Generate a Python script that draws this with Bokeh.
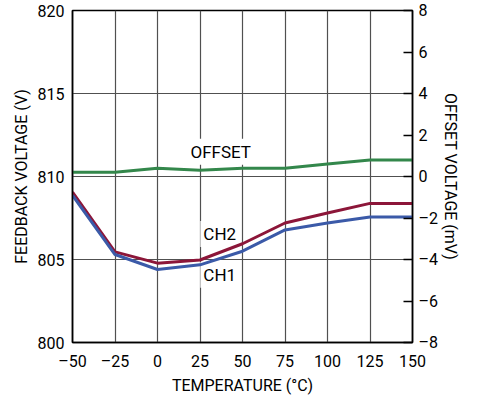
from bokeh.plotting import figure
from bokeh.models import Range1d, LinearAxis, FixedTicker, ColumnDataSource
from bokeh.core.properties import value
from bokeh.embed import file_html
from bokeh.resources import INLINE

# ---- data ----
temps = [-50, -25, 0, 25, 50, 75, 100, 125, 150]
ch1 = [808.86, 805.3, 804.4, 804.68, 805.5, 806.78, 807.2, 807.56, 807.56]
ch2 = [809.06, 805.46, 804.78, 804.97, 805.95, 807.2, 807.8, 808.38, 808.38]
offset = [0.2, 0.2, 0.4, 0.3, 0.4, 0.4, 0.6, 0.8, 0.8]

x_ticks = [-50, -25, 0, 25, 50, 75, 100, 125, 150]
left_ticks = [800, 805, 810, 815, 820]
right_ticks = [-8, -6, -4, -2, 0, 2, 4, 6, 8]

label_text = ["OFFSET", "CH2", "CH1"]
label_x = [37.2, 36.6, 36.6]
label_y = [811.49, 806.53, 804.08]

FONT = "Roboto"
GREEN = "#33874b"
RED = "#8c1639"
BLUE = "#3b5aa8"

p = figure(width=462, height=397, output_backend="svg", toolbar_location=None,
           x_range=Range1d(-50, 150), y_range=Range1d(800, 820),
           min_border_left=72, min_border_top=10, min_border_right=30,
           min_border_bottom=30)
p.extra_y_ranges = {"offset": Range1d(-8, 8)}

p.outline_line_color = "black"
p.outline_line_width = 1.5
p.background_fill_color = "white"
p.border_fill_color = "white"

def minus(v):
    return ("\u2013" + str(abs(v))) if v < 0 else str(v)

# x axis
xa = p.xaxis[0]
xa.ticker = FixedTicker(ticks=x_ticks)
xa.major_label_overrides = {v: minus(v) for v in x_ticks}
xa.axis_label = "TEMPERATURE (\u00b0C)"

# left axis
ya = p.yaxis[0]
ya.ticker = FixedTicker(ticks=left_ticks)
ya.axis_label = "FEEDBACK VOLTAGE (V)"

# right axis
ra = LinearAxis(y_range_name="offset", ticker=FixedTicker(ticks=right_ticks))
ra.major_label_overrides = {v: minus(v) for v in right_ticks}
ra.axis_label = "OFFSET VOLTAGE (mV)"
p.add_layout(ra, "right")

for ax in [xa, ya, ra]:
    ax.axis_line_color = "black"
    ax.axis_line_width = 1.5
    ax.major_tick_out = 0
    ax.major_tick_in = 0
    ax.minor_tick_line_color = None
    ax.major_label_text_font = FONT
    ax.major_label_text_font_size = "16px"
    ax.major_label_text_color = "black"
    ax.axis_label_text_font = FONT
    ax.axis_label_text_font_size = "16px"
    ax.axis_label_text_font_style = "normal"
    ax.axis_label_text_color = "black"
    ax.major_label_standoff = 8
    ax.axis_label_standoff = 4

ra.major_tick_in = 9
ra.major_tick_line_color = "black"
ra.major_tick_line_width = 1.5
ra.major_label_standoff = 6
ra.axis_label_standoff = 0
xa.major_label_standoff = 9
xa.axis_label_standoff = 2

p.xgrid.ticker = FixedTicker(ticks=x_ticks)
p.ygrid.ticker = FixedTicker(ticks=left_ticks)
for g in [p.xgrid[0], p.ygrid[0]]:
    g.grid_line_color = "#505050"
    g.grid_line_width = 1.2

# labels first (white boxes hide the grid), then the curves on top
src = ColumnDataSource(dict(x=label_x, y=label_y, t=label_text))
p.text(x="x", y="y", text="t", source=src, text_align="center",
       text_baseline="middle", text_font=value(FONT), text_font_size="17px",
       text_color="black", background_fill_color="white", padding=3)

p.line(temps, offset, y_range_name="offset", line_color=GREEN, line_width=3)
p.line(temps, ch2, line_color=RED, line_width=3)
p.line(temps, ch1, line_color=BLUE, line_width=3)

open("out.html", "w").write(file_html(p, INLINE))
